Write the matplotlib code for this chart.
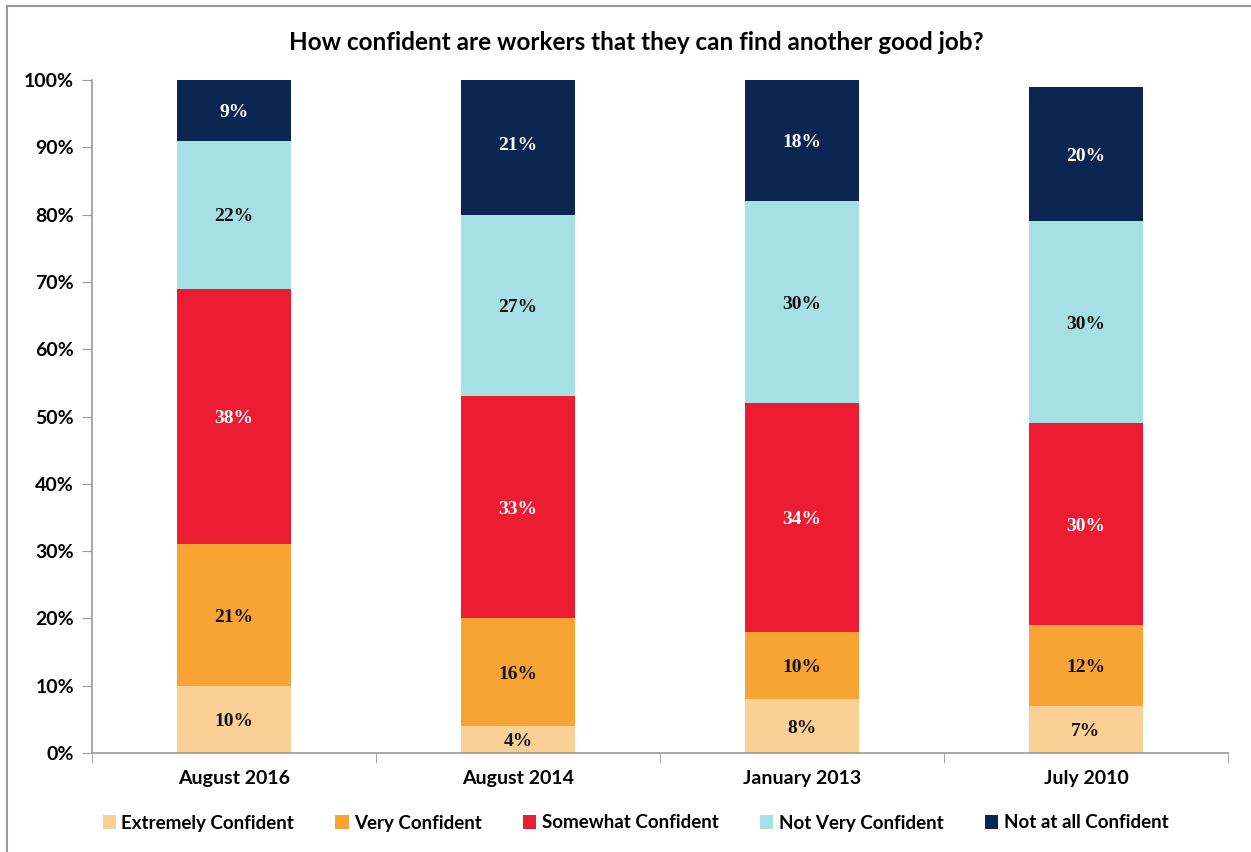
import numpy as np
import matplotlib
matplotlib.use("Agg")
import matplotlib.pyplot as plt
from matplotlib.lines import Line2D
from matplotlib.patches import Patch

categories = ["August 2016", "August 2014", "January 2013", "July 2010"]
series = ["Extremely Confident", "Very Confident", "Somewhat Confident",
          "Not Very Confident", "Not at all Confident"]
extremely = [10, 4, 8, 7]
very = [21, 16, 10, 12]
somewhat = [38, 33, 34, 30]
not_very = [22, 27, 30, 30]
not_at_all = [9, 21, 18, 20]

colors = ["#FBD095", "#F8A434", "#EC1C32", "#A7E0E4", "#0C2652"]
text_colors = ["#111111", "#111111", "white", "#111111", "white"]

fig = plt.figure(figsize=(12.51, 8.52), dpi=100)
ax = fig.add_axes([92 / 1251, 1 - 753 / 852, 1136 / 1251, 673 / 852])

x = np.arange(len(categories))
bottom = np.zeros(len(categories))
for vals, name, c, tc in zip([extremely, very, somewhat, not_very, not_at_all],
                             series, colors, text_colors):
    vals = np.array(vals, dtype=float)
    ax.bar(x, vals, 0.4, bottom=bottom, color=c, label=name)
    for xi, b, v in zip(x, bottom, vals):
        ax.text(xi, b + v / 2, f"{int(v)}%", ha="center", va="center_baseline",
                color=tc, fontsize=14, fontweight="bold",
                family="Liberation Serif")
    bottom += vals

ax.set_xlim(-0.5, len(categories) - 0.5)
ax.set_ylim(0, 100)
ax.set_yticks(np.arange(0, 101, 10))
ax.set_yticklabels([f"{v}%" for v in range(0, 101, 10)])
ax.set_xticks(x)
ax.set_xticklabels(categories)
ax.set_xticks(np.arange(-0.5, len(categories), 1), minor=True)
ax.tick_params(axis="x", which="major", length=0, pad=12)
ax.tick_params(axis="x", which="minor", length=7, color="#999999")
ax.tick_params(axis="y", length=7, color="#999999", pad=6)
for lab in ax.get_xticklabels() + ax.get_yticklabels():
    lab.set_fontsize(14)
    lab.set_fontweight("bold")
    lab.set_family("Lato")
for s in ["top", "right"]:
    ax.spines[s].set_visible(False)
for s in ["left", "bottom"]:
    ax.spines[s].set_color("#999999")
    ax.spines[s].set_linewidth(1.2)

fig.text(0.509, 1 - 43 / 852, "How confident are workers that they can find another good job?",
         ha="center", va="center", fontsize=17.5, fontweight="bold", family="Lato")

handles = [Patch(facecolor=c, edgecolor="none") for c in colors]
fig.legend(handles, series, loc="center", bbox_to_anchor=(0.508, 1 - 823 / 852),
           ncol=5, frameon=False, prop={"family": "Lato", "size": 13.5, "weight": "bold"},
           handlelength=0.7, handleheight=0.7, handletextpad=0.3, columnspacing=2.2)

# thin frame along the left and top edges
fig.add_artist(Line2D([7 / 1251, 7 / 1251], [0, 1 - 6 / 852], color="#999999", lw=1.5))
fig.add_artist(Line2D([7 / 1251, 1], [1 - 6 / 852, 1 - 6 / 852], color="#999999", lw=1.5))

fig.savefig("out.png", dpi=100)
